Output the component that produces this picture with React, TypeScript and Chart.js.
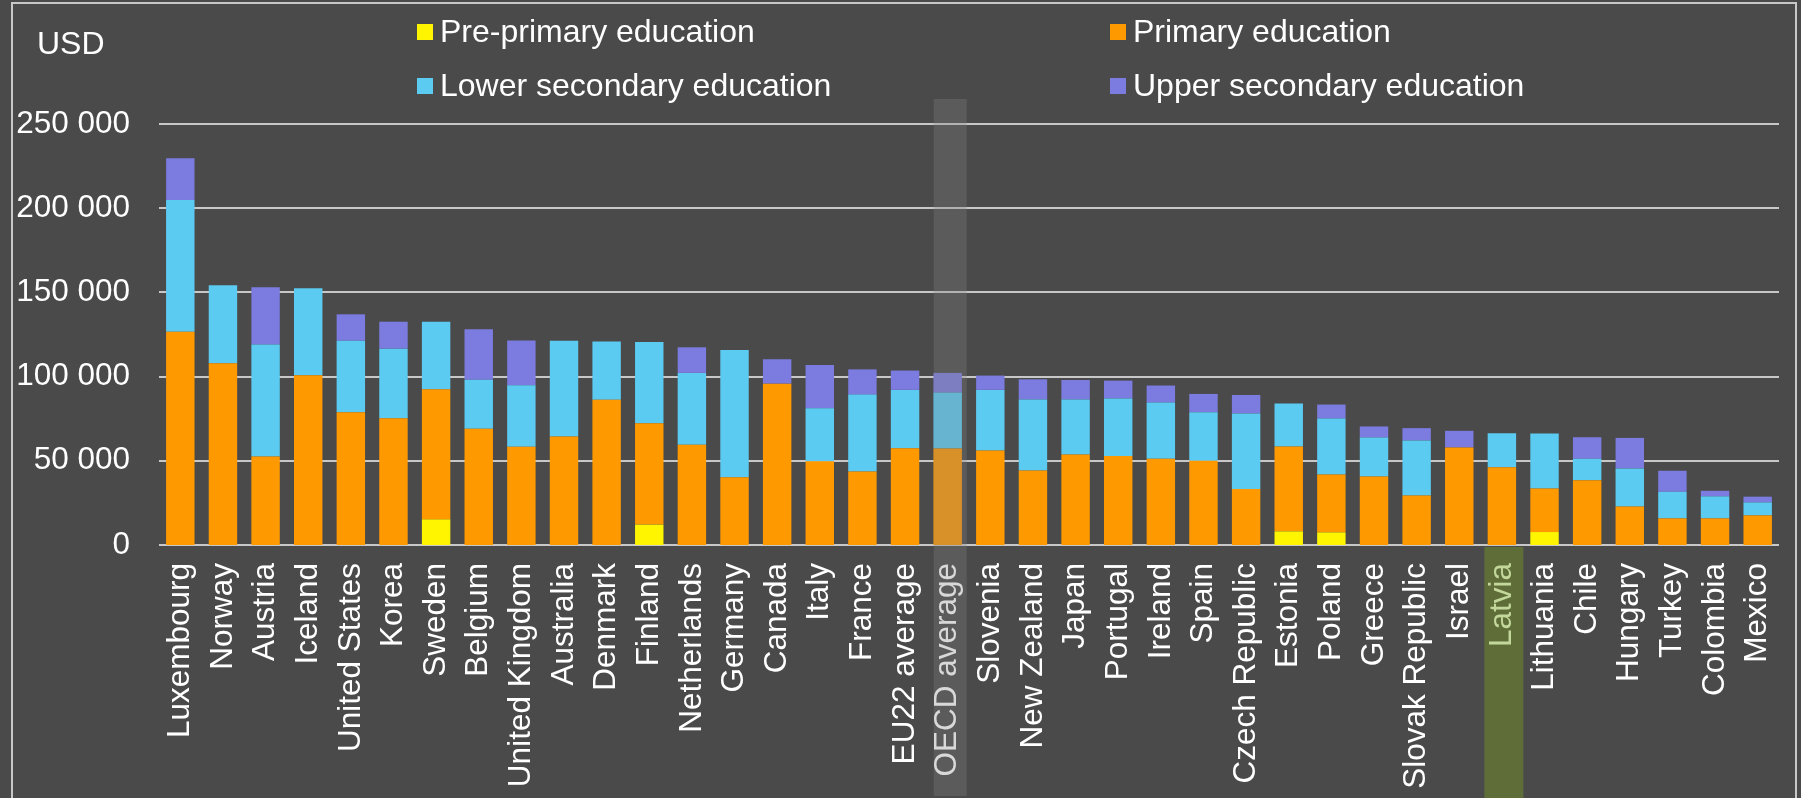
import React, { useEffect, useRef } from 'react';
import { Chart, registerables } from 'chart.js';

Chart.register(...registerables);

const categories = [
  'Luxembourg', 'Norway', 'Austria', 'Iceland', 'United States', 'Korea', 'Sweden', 'Belgium',
  'United Kingdom', 'Australia', 'Denmark', 'Finland', 'Netherlands', 'Germany', 'Canada', 'Italy',
  'France', 'EU22 average', 'OECD average', 'Slovenia', 'New Zealand', 'Japan', 'Portugal', 'Ireland',
  'Spain', 'Czech Republic', 'Estonia', 'Poland', 'Greece', 'Slovak Republic', 'Israel', 'Latvia',
  'Lithuania', 'Chile', 'Hungary', 'Turkey', 'Colombia', 'Mexico',
];

const prePrimary = [
  0, 0, 0, 0, 0, 0, 15200, 0,
  0, 0, 0, 12100, 0, 0, 0, 0,
  0, 0, 0, 0, 0, 0, 0, 0,
  0, 0, 8100, 7500, 0, 0, 0, 0,
  7700, 0, 0, 0, 0, 0,
];

const primary = [
  126700, 107900, 52600, 100800, 78900, 75300, 77300, 69000,
  58300, 64400, 86200, 60200, 59500, 40300, 95800, 49800,
  43700, 57500, 57300, 56100, 44300, 53800, 52800, 51200,
  50000, 33200, 50400, 34400, 40700, 29400, 57900, 46200,
  25900, 38500, 22900, 15800, 15800, 17600,
];

const lowerSecondary = [
  78200, 46300, 66400, 51600, 42400, 41300, 40100, 29200,
  36600, 56900, 34700, 48300, 42700, 75500, 0, 31400,
  45600, 34600, 33200, 36000, 42100, 32600, 34200, 33400,
  28900, 44900, 25500, 33200, 23100, 32700, 0, 20200,
  32600, 12700, 22600, 15800, 13100, 7700,
];

const upperSecondary = [
  24800, 0, 34000, 0, 15700, 16000, 0, 29900,
  26600, 0, 0, 0, 15200, 0, 14500, 25700,
  15000, 11500, 11700, 8500, 12000, 11600, 10600, 10100,
  10800, 11000, 0, 8300, 6600, 7300, 9900, 0,
  0, 12800, 18100, 12500, 3300, 3400,
];

const seriesNames = [
  'Pre-primary education',
  'Primary education',
  'Lower secondary education',
  'Upper secondary education',
];
const seriesColors = ['#FFF500', '#FF9900', '#5BCBF2', '#7B7BE0'];

const yTicks = [0, 50000, 100000, 150000, 200000, 250000];
const highlightOECD = 'OECD average';
const highlightLatvia = 'Latvia';

const FONT = '"Liberation Sans", Arial, sans-serif';
const FS = 32;
const AXIS_FS = 31.5;
const W = 1801;
const H = 798;

const fmt = (v: number) => String(v).replace(/\B(?=(\d{3})+(?!\d))/g, ' ');

const decorPlugin = {
  id: 'decor',
  beforeDraw(chart: any) {
    const { ctx, scales } = chart;
    ctx.save();
    ctx.fillStyle = '#4a4a4a';
    ctx.fillRect(0, 0, W, H);
    const xs = scales.x;
    const li = categories.indexOf(highlightLatvia);
    const cx = xs.getPixelForValue(li) + 2;
    ctx.fillStyle = '#5f6e38';
    ctx.fillRect(cx - 19.5, chart.chartArea.bottom + 2, 39, H);
    ctx.restore();
  },
  beforeDatasetsDraw(chart: any) {
    const { ctx, scales } = chart;
    const ys = scales.y;
    const xs = scales.x;
    const half = (xs.getPixelForValue(1) - xs.getPixelForValue(0)) / 2;
    const left = xs.getPixelForValue(0) - half;
    const right = xs.getPixelForValue(categories.length - 1) + half;
    ctx.save();
    ctx.strokeStyle = '#c8c8c8';
    ctx.lineWidth = 2;
    yTicks.forEach((v) => {
      const y = Math.round(ys.getPixelForValue(v));
      ctx.beginPath();
      ctx.moveTo(left, y);
      ctx.lineTo(right, y);
      ctx.stroke();
    });
    ctx.restore();
  },
  afterDraw(chart: any) {
    const { ctx, scales } = chart;
    const xs = scales.x;
    ctx.save();
    // OECD highlight band
    const oi = categories.indexOf(highlightOECD);
    const ox = xs.getPixelForValue(oi) + 2.5;
    ctx.fillStyle = 'rgba(128,128,128,0.31)';
    ctx.fillRect(ox - 16.5, 99, 33, 697);

    // legend
    ctx.font = `${FS}px ${FONT}`;
    ctx.textBaseline = 'middle';
    ctx.textAlign = 'left';
    const pos = [
      [417, 24],
      [1110, 24],
      [417, 78],
      [1110, 78],
    ];
    seriesNames.forEach((n, i) => {
      const [x, y] = pos[i];
      ctx.fillStyle = seriesColors[i];
      ctx.fillRect(x, y, 16, 16);
      ctx.fillStyle = '#ffffff';
      ctx.fillText(n, x + 23, y + 9);
    });

    // unit label
    ctx.fillText('USD', 37, 45);

    // outer border
    ctx.strokeStyle = '#c8c8c8';
    ctx.lineWidth = 2;
    ctx.strokeRect(12, 3, 1784, H + 20);
    ctx.restore();
  },
};

export default function App() {
  const ref = useRef<HTMLCanvasElement>(null);

  useEffect(() => {
    document.body.style.margin = '0';
    document.body.style.background = '#4a4a4a';
    const canvas = ref.current!;
    const data = [prePrimary, primary, lowerSecondary, upperSecondary];
    const chart = new Chart(canvas, {
      type: 'bar',
      data: {
        labels: categories,
        datasets: seriesNames.map((name, i) => ({
          label: name,
          data: data[i],
          backgroundColor: seriesColors[i],
          borderWidth: 0,
          barPercentage: 0.667,
          categoryPercentage: 1,
        })),
      },
      options: {
        responsive: false,
        animation: false,
        devicePixelRatio: 1,
        layout: { padding: { top: 124, right: 22, left: 0, bottom: 0 } },
        plugins: {
          legend: { display: false },
          tooltip: { enabled: false },
          title: { display: false },
        },
        scales: {
          x: {
            stacked: true,
            grid: { display: false, drawTicks: false },
            border: { display: false },
            ticks: {
              autoSkip: false,
              minRotation: 90,
              maxRotation: 90,
              padding: 18,
              font: { family: FONT, size: AXIS_FS },
              color: (c: any) =>
                categories[c.index] === highlightLatvia ? '#c3d79a' : '#ffffff',
            },
            afterFit: (s: any) => {
              s.height = 253;
              s.paddingLeft = 0;
              s.paddingRight = 0;
            },
          },
          y: {
            stacked: true,
            min: 0,
            max: 250000,
            afterBuildTicks: (s: any) => {
              s.ticks = yTicks.map((v) => ({ value: v }));
            },
            grid: { display: false, drawTicks: false },
            border: { display: false },
            ticks: {
              padding: 29,
              font: { family: FONT, size: AXIS_FS },
              color: '#ffffff',
              callback: (v: any) => fmt(Number(v)),
            },
            afterFit: (s: any) => {
              s.width = 159;
            },
          },
        },
      },
      plugins: [decorPlugin],
    });
    return () => chart.destroy();
  }, []);

  return (
    <div style={{ position: 'fixed', left: 0, top: 0, width: W, height: H, background: '#4a4a4a' }}>
      <canvas ref={ref} width={W} height={H} style={{ width: W, height: H, display: 'block' }} />
    </div>
  );
}
